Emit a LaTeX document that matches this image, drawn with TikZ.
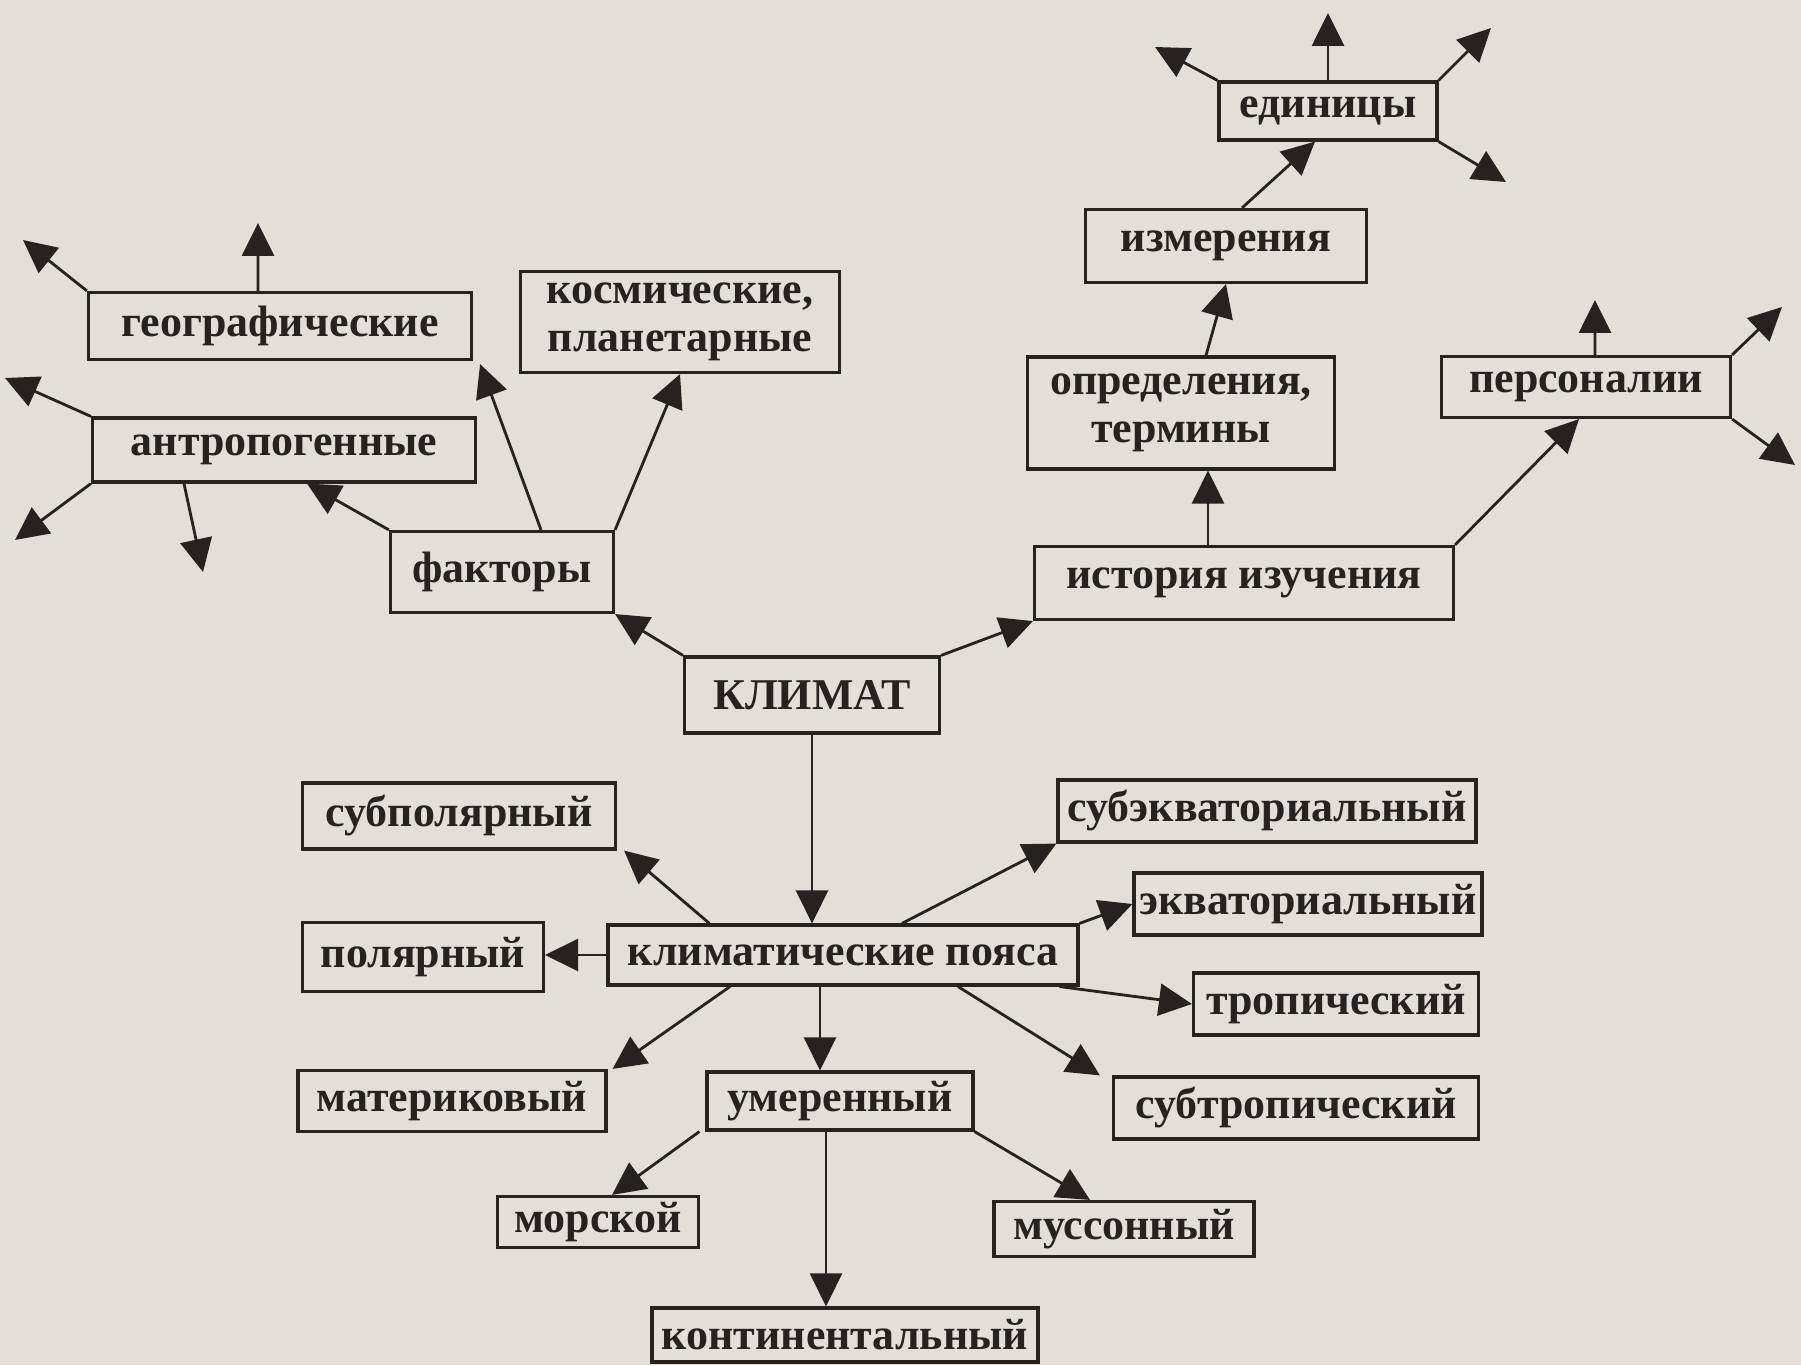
\documentclass[tikz,border=0pt]{standalone}
\usepackage{fontspec}
\setmainfont{Liberation Serif}
\usepackage{xcolor}
\usepackage{tikz}
\usetikzlibrary{arrows.meta, positioning}

\definecolor{paper}{RGB}{226,223,216}
\definecolor{ink}{RGB}{38,34,32}

\tikzset{
  box/.style 2 args={draw=ink, line width=0.9pt, fill=paper, inner sep=0pt, align=center,
    minimum width=#1cm, minimum height=#2cm,
    font=\fontsize{12.5pt}{13.7pt}\selectfont\bfseries, text=ink},
  arr/.style={draw=ink, line width=0.8pt, -{Triangle[length=3.3mm,width=3.2mm]}}
}

\begin{document}
\begin{tikzpicture}
  \fill[paper] (0,0) rectangle (18.01,13.65);
  \useasboundingbox (0,0) rectangle (18.01,13.65);

  % factors
  \node[box={3.83}{0.67}] (geo) at (2.80,10.39) {географические};
  \node[box={3.19}{1.01}] (kosm) at (6.80,10.43) {космические,\\планетарные};
  \node[box={3.83}{0.64}] (antro) at (2.84,9.15) {антропогенные};
  \node[box={2.23}{0.81}] (fakt) at (5.02,7.93) {факторы};

  % history
  \node[box={4.19}{0.73}] (hist) at (12.44,7.82) {история изучения};
  \node[box={3.07}{1.12}] (opr) at (11.81,9.52) {определения,\\термины};
  \node[box={2.81}{0.73}] (izm) at (12.26,11.19) {измерения};
  \node[box={2.18}{0.58}] (edin) at (13.28,12.54) {единицы};
  \node[box={2.89}{0.61}] (pers) at (15.86,9.78) {персоналии};

  % centre
  \node[box={2.55}{0.76}] (klimat) at (8.12,6.70) {КЛИМАТ};
  \node[box={4.70}{0.60}] (kp) at (8.43,4.10) {климатические пояса};

  % belts
  \node[box={3.13}{0.66}] (subpol) at (4.59,5.49) {субполярный};
  \node[box={2.41}{0.69}] (polar) at (4.23,4.08) {полярный};
  \node[box={4.18}{0.62}] (subekv) at (12.67,5.54) {субэкваториальный};
  \node[box={3.48}{0.62}] (ekv) at (13.08,4.61) {экваториальный};
  \node[box={2.85}{0.62}] (trop) at (13.36,3.61) {тропический};
  \node[box={3.65}{0.62}] (subtrop) at (12.96,2.57) {субтропический};
  \node[box={3.08}{0.61}] (mater) at (4.52,2.64) {материковый};
  \node[box={2.66}{0.58}] (umer) at (8.40,2.64) {умеренный};
  \node[box={2.01}{0.51}] (morsk) at (5.98,1.43) {морской};
  \node[box={2.60}{0.55}] (musson) at (11.24,1.36) {муссонный};
  \node[box={3.86}{0.54}] (kont) at (8.45,0.30) {континентальный};

  % free ends
  \coordinate (geo-nw) at (0.23,11.25);
  \coordinate (geo-n) at (2.58,11.42);
  \coordinate (antro-nw) at (0.05,9.87);
  \coordinate (antro-sw) at (0.15,8.25);
  \coordinate (antro-s) at (2.03,7.93);
  \coordinate (edin-nw) at (11.55,13.18);
  \coordinate (edin-n) at (13.28,13.52);
  \coordinate (edin-ne) at (14.91,13.37);
  \coordinate (edin-se) at (15.06,11.83);
  \coordinate (pers-n) at (15.95,10.65);
  \coordinate (pers-ne) at (17.82,10.58);
  \coordinate (pers-se) at (17.95,9.00);

  % upper part
  \draw[arr] (klimat.north west) -- (fakt.south east);
  \draw[arr] (klimat.north east) -- (hist.south west);
  \draw[arr] (fakt.north west) -- ([xshift=2.3mm]antro.south);
  \draw[arr] ([xshift=3.9mm]fakt.north) -- ([shift={(0.7mm,-0.3mm)}]geo.south east);
  \draw[arr] (fakt.north east) -- (kosm.south);
  \draw[arr] (geo.north west) -- (geo-nw);
  \draw[arr] ([xshift=-2.2mm]geo.north) -- (geo-n);
  \draw[arr] (antro.north west) -- (antro-nw);
  \draw[arr] (antro.south west) -- (antro-sw);
  \draw[arr] ([xshift=-10mm]antro.south) -- (antro-s);
  \draw[arr] ([xshift=-3.6mm]hist.north) -- ([xshift=-3.6mm]hist.north |- opr.south);
  \draw[arr] ([xshift=2.5mm]opr.north) -- (izm.south);
  \draw[arr] ([xshift=1.6mm]izm.north) -- ([xshift=-1.3mm]edin.south);
  \draw[arr] (edin.north west) -- (edin-nw);
  \draw[arr] (edin.north) -- (edin-n);
  \draw[arr] (edin.north east) -- (edin-ne);
  \draw[arr] (edin.south east) -- (edin-se);
  \draw[arr] (hist.north east) -- ([xshift=-0.7mm]pers.south);
  \draw[arr] ([xshift=0.9mm]pers.north) -- (pers-n);
  \draw[arr] (pers.north east) -- (pers-ne);
  \draw[arr] (pers.south east) -- (pers-se);

  % lower part
  \draw[arr] (klimat.south) -- (klimat.south |- kp.north);
  \draw[arr] ([xshift=10.3mm]kp.north west) -- ([xshift=0.7mm]subpol.south east);
  \draw[arr] ([xshift=5.9mm]kp.north) -- (subekv.south west);
  \draw[arr] (kp.north east) -- (ekv.west);
  \draw[arr] (kp.west) -- (kp.west -| polar.east);
  \draw[arr] ([xshift=-2mm]kp.south east) -- (trop.west);
  \draw[arr] ([xshift=11.5mm]kp.south) -- ([xshift=-1.2mm]subtrop.north west);
  \draw[arr] ([xshift=-11.3mm]kp.south) -- ([xshift=0.5mm]mater.north east);
  \draw[arr] ([xshift=-2mm]umer.north |- kp.south) -- ([xshift=-2mm]umer.north);
  \draw[arr] ([xshift=-0.6mm]umer.south west) -- ([xshift=1.4mm]morsk.north);
  \draw[arr] ([xshift=-1.4mm]umer.south) -- ([xshift=-1.4mm]umer.south |- kont.north);
  \draw[arr] (umer.south east) -- ([xshift=-3.4mm]musson.north);
\end{tikzpicture}
\end{document}
